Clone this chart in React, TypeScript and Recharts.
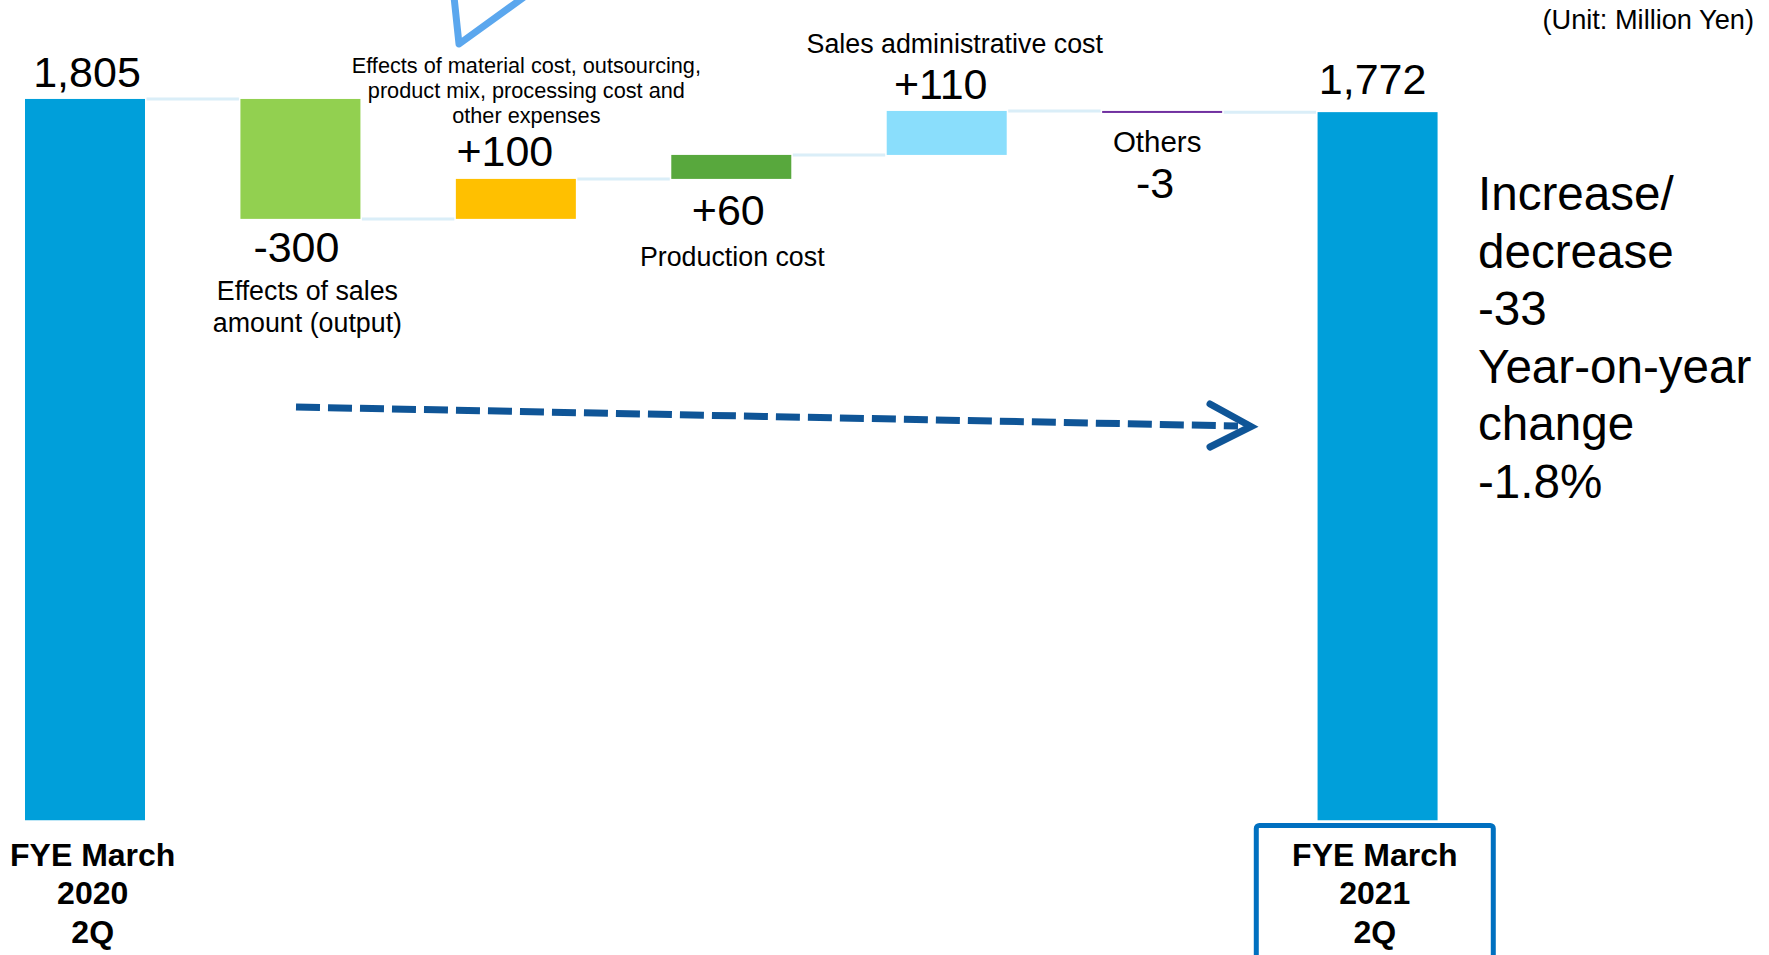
import React from "react";
import { ComposedChart, Bar, XAxis, YAxis, LabelList } from "recharts";

// ---------- data ----------
const categories = [
  "FYE March 2020 2Q",
  "Effects of sales amount (output)",
  "Effects of material cost, outsourcing, product mix, processing cost and other expenses",
  "Production cost",
  "Sales administrative cost",
  "Others",
  "FYE March 2021 2Q",
];
const changes = [1805, -300, 100, 60, 110, -3, 1772];
const totalFlags = [true, false, false, false, false, false, true];
const categoryLines: string[][] = [
  [],
  ["Effects of sales", "amount (output)"],
  ["Effects of material cost, outsourcing,", "product mix, processing cost and", "other expenses"],
  ["Production cost"],
  ["Sales administrative cost"],
  ["Others"],
  [],
];
const axisLabelLines: string[][] = [
  ["FYE March", "2020", "2Q"],
  [],
  [],
  [],
  [],
  [],
  ["FYE March", "2021", "2Q"],
];
const noteLines = ["Increase/", "decrease", "-33", "Year-on-year", "change", "-1.8%"];
const unitLabel = "(Unit: Million Yen)";
const yDomain = [0, 2000];

// ---------- styles ----------
const FONT = "'Liberation Sans', Arial, Helvetica, sans-serif";
const barColors = ["#009FDA", "#92D050", "#FFC000", "#58A83D", "#8ADEFC", "#7030A0", "#009FDA"];
const CONNECTOR = "#DAEEF8";

const CHART_LEFT = -23;
const CHART_W = 1792;
const CHART_H = 955;
const PLOT_W = 1508;
const M_TOP = 21;
const PLOT_H = 799.5;
const AXIS_H = 130;
const BAR_SIZE = 120;
const BAND = PLOT_W / categories.length;
const GAP = BAND - BAR_SIZE;

const valueLayout = [
  { edge: "top", dx: 2, dy: -12, size: 43 },
  { edge: "bottom", dx: -4, dy: 43, size: 43 },
  { edge: "top", dx: -11, dy: -13, size: 43 },
  { edge: "bottom", dx: -3, dy: 46, size: 43 },
  { edge: "top", dx: -6, dy: -12, size: 43 },
  { edge: "bottom", dx: -7, dy: 85.4, size: 43 },
  { edge: "top", dx: -5, dy: -18, size: 43 },
];
const nameLayout: any[] = [
  null,
  { edge: "bottom", dx: 7, dy: 81, size: 26.8, lh: 32 },
  { edge: "top", dx: 10.5, dy: -106, size: 21.7, lh: 25 },
  { edge: "bottom", dx: 1, dy: 87, size: 26.8, lh: 32 },
  { edge: "top", dx: 8, dy: -58, size: 26.8, lh: 32 },
  { edge: "bottom", dx: -5, dy: 39.5, size: 29.5, lh: 32 },
  null,
];
const tickLayout: any[] = [
  { dx: 8, box: false },
  null,
  null,
  null,
  null,
  null,
  { dx: -2.5, box: true },
];

// ---------- build waterfall table ----------
let running = 0;
const data = categories.map((name, i) => {
  const v = changes[i];
  if (totalFlags[i]) {
    running = v;
    return { name, base: 0, amount: v, change: v, total: true };
  }
  const start = running;
  const end = running + v;
  running = end;
  return { name, base: Math.min(start, end), amount: Math.abs(v), change: v, total: false };
});

const fmtValue = (i: number) => {
  const v = changes[i];
  if (totalFlags[i]) return v.toLocaleString("en-US");
  return (v > 0 ? "+" : "") + String(v);
};

// ---------- custom renderers ----------
const WaterfallBar = (props: any) => {
  const { x, y, width, height, index } = props;
  const d = data[index];
  const h = Math.max(height, 2);
  const endY = !d.total && d.change < 0 ? y + height : y;
  const isLast = index === data.length - 1;
  return (
    <g>
      <rect x={x} y={y} width={width} height={h} fill={barColors[index]} />
      {!isLast && (
        <line
          x1={x + width + 1.5}
          x2={x + width + GAP - 1.5}
          y1={endY}
          y2={endY}
          stroke={CONNECTOR}
          strokeWidth={3}
        />
      )}
    </g>
  );
};

const BarLabels = (props: any) => {
  const index = props.index;
  const vb = props.viewBox || props;
  const x = vb.x, y = vb.y, width = vb.width, height = Math.abs(vb.height);
  const top = Math.min(y, y + vb.height);
  const bottom = top + height;
  const cx = x + width / 2;
  const vl = valueLayout[index];
  const nl = nameLayout[index];
  const vy = (vl.edge === "top" ? top : bottom) + vl.dy;
  return (
    <g>
      <text
        x={cx + vl.dx}
        y={vy}
        textAnchor="middle"
        fontFamily={FONT}
        fontSize={vl.size}
        fill="#000"
      >
        {fmtValue(index)}
      </text>
      {nl && (
        <text textAnchor="middle" fontFamily={FONT} fontSize={nl.size} fill="#000">
          {categoryLines[index].map((line, k) => (
            <tspan
              key={k}
              x={cx + nl.dx}
              y={(nl.edge === "top" ? top : bottom) + nl.dy + k * nl.lh}
            >
              {line}
            </tspan>
          ))}
        </text>
      )}
    </g>
  );
};

const BottomTick = (props: any) => {
  const { x, y, payload } = props;
  const i = payload && payload.index !== undefined ? payload.index : props.index;
  const lines = axisLabelLines[i] || [];
  const cfg = tickLayout[i];
  if (!cfg || lines.length === 0) return <g />;
  const cx = x + cfg.dx;
  return (
    <g>
      {cfg.box && (
        <rect
          x={cx - 118.5}
          y={y + 5}
          width={237}
          height={150}
          rx={3}
          fill="#fff"
          stroke="#0070C0"
          strokeWidth={5}
        />
      )}
      <text textAnchor="middle" fontFamily={FONT} fontSize={32} fontWeight="bold" fill="#000">
        {lines.map((l, k) => (
          <tspan key={k} x={cx} y={y + 45 + k * 38.5}>
            {l}
          </tspan>
        ))}
      </text>
    </g>
  );
};

export default function App() {
  return (
    <div
      style={{
        position: "absolute",
        left: 0,
        top: 0,
        width: 1769,
        height: 955,
        overflow: "hidden",
        background: "#fff",
      }}
    >
      <style>{`html,body{margin:0;overflow:hidden;background:#fff}`}</style>
      <div style={{ position: "absolute", left: CHART_LEFT, top: 0 }}>
        <ComposedChart
          width={CHART_W}
          height={CHART_H}
          data={data}
          barSize={BAR_SIZE}
          margin={{
            top: M_TOP,
            left: 0,
            right: CHART_W - PLOT_W,
            bottom: CHART_H - M_TOP - PLOT_H - AXIS_H,
          }}
        >
          <XAxis
            dataKey="name"
            type="category"
            height={AXIS_H}
            axisLine={false}
            tickLine={false}
            tickSize={0}
            tickMargin={0}
            interval={0}
            tick={(p: any) => <BottomTick {...p} />}
          />
          <YAxis type="number" domain={yDomain} hide allowDataOverflow />
          <Bar dataKey="base" stackId="w" fill="transparent" isAnimationActive={false} />
          <Bar dataKey="amount" stackId="w" shape={WaterfallBar} isAnimationActive={false}>
            <LabelList dataKey="amount" content={(p: any) => <BarLabels {...p} />} />
          </Bar>
        </ComposedChart>
      </div>
      <svg
        width={1769}
        height={955}
        style={{ position: "absolute", left: 0, top: 0, pointerEvents: "none" }}
      >
        {/* callout pointer */}
        <polyline
          points="453.5,-8 459,44 531,-8"
          fill="none"
          stroke="#5BA7EE"
          strokeWidth={7}
          strokeLinejoin="round"
        />
        {/* dashed trend arrow */}
        <line
          x1={296}
          y1={407}
          x2={1238}
          y2={426}
          stroke="#0F5597"
          strokeWidth={7}
          strokeDasharray="24 8"
        />
        <polyline
          points="1210,404 1251,426.5 1210,447"
          fill="none"
          stroke="#0F5597"
          strokeWidth={7}
          strokeLinecap="round"
          strokeLinejoin="miter"
        />
        <text x={1754} y={29} textAnchor="end" fontFamily={FONT} fontSize={27.2} fill="#000">
          {unitLabel}
        </text>
        <text fontFamily={FONT} fontSize={47.6} fill="#000">
          {noteLines.map((l, k) => (
            <tspan key={k} x={1478} y={210 + k * 57.6}>
              {l}
            </tspan>
          ))}
        </text>
      </svg>
    </div>
  );
}
